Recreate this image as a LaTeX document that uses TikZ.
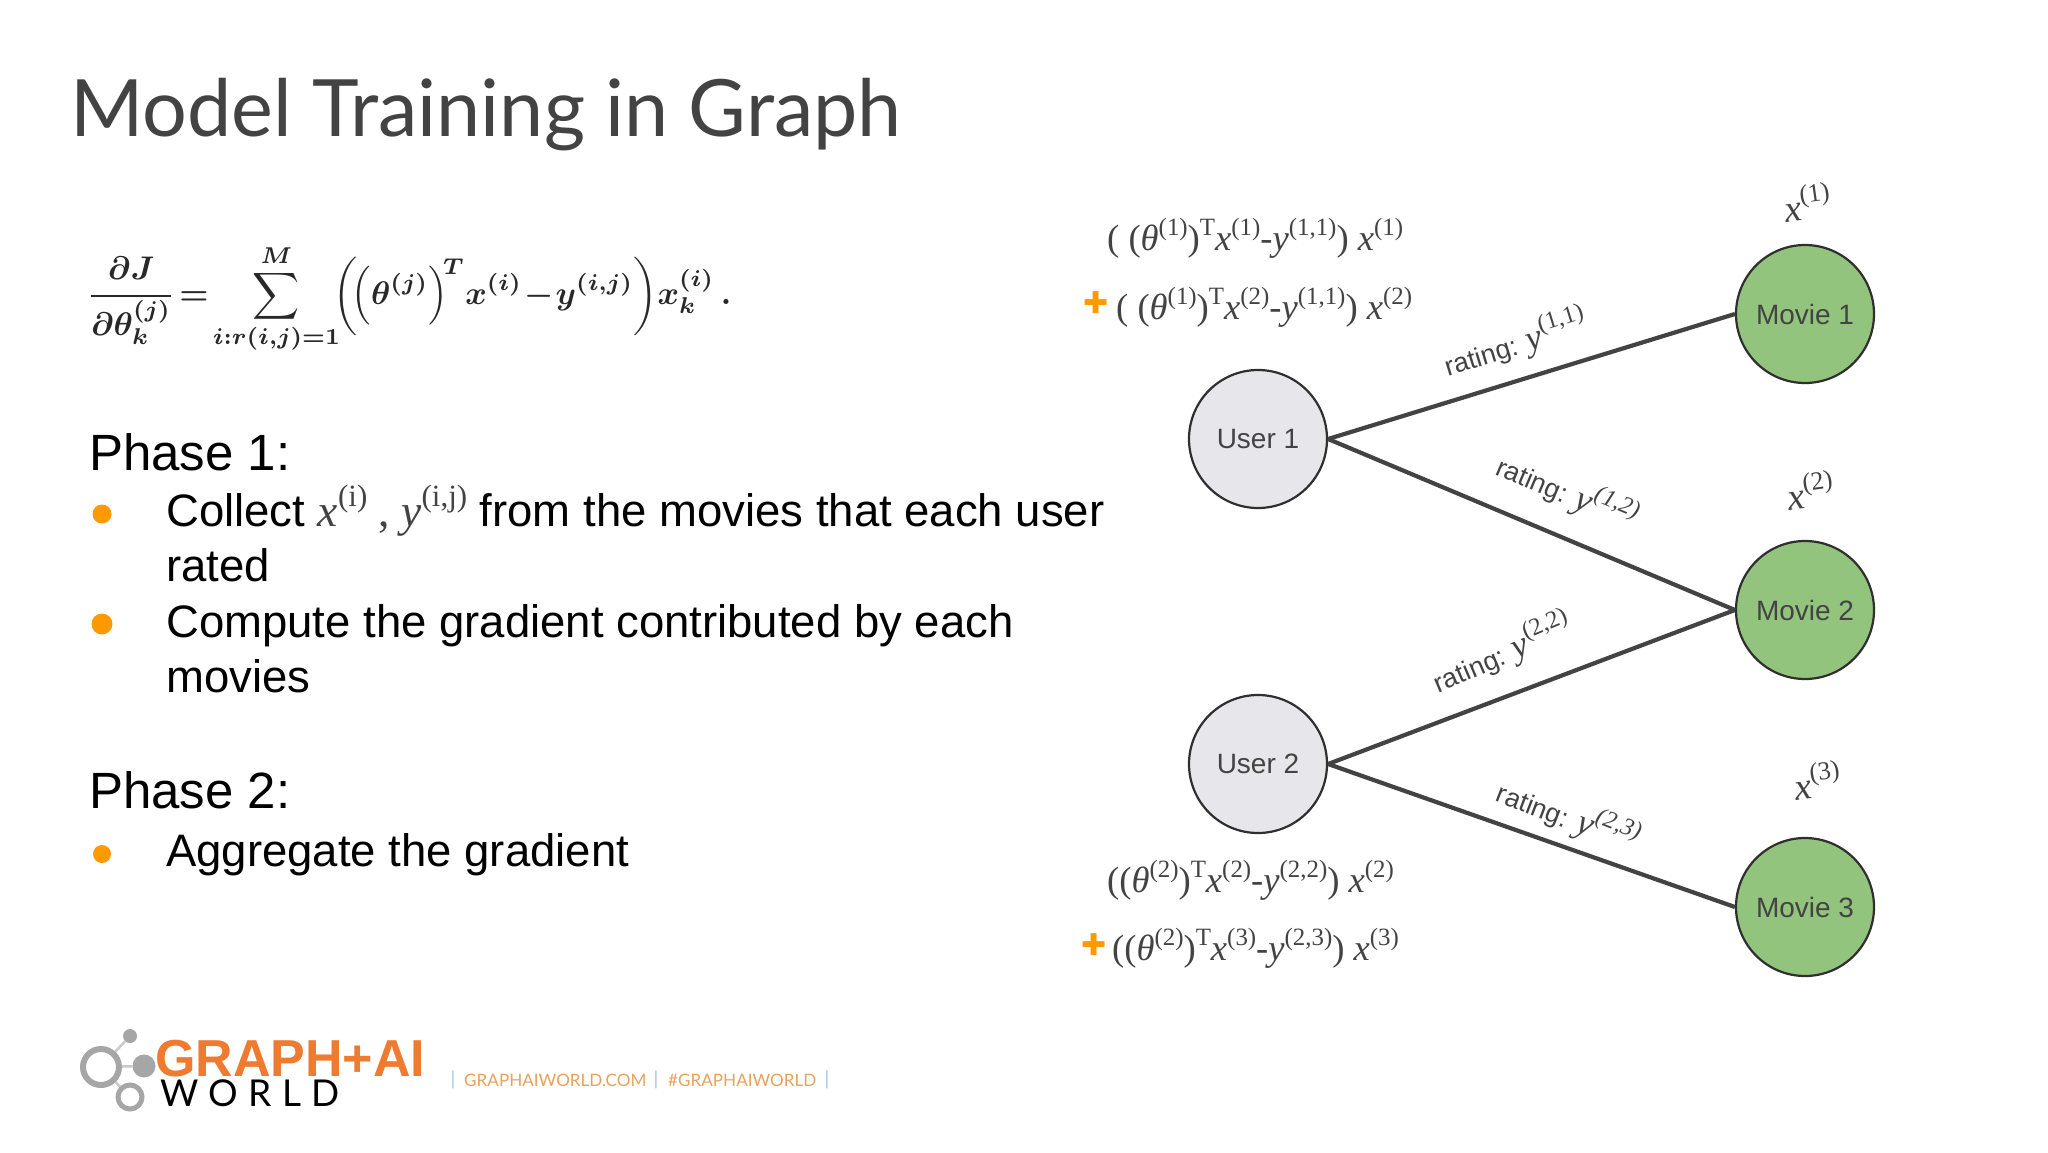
\documentclass[tikz,border=0pt]{standalone}
\usepackage[no-math]{fontspec}
\setmainfont{Liberation Sans}
\newfontfamily\serf{Liberation Serif}
\newfontfamily\lato{Lato}
\newfontfamily\djv{DejaVu Sans}
\definecolor{ink}{HTML}{434343}
\definecolor{orng}{HTML}{FF9900}
\definecolor{lgreen}{HTML}{93C47D}
\definecolor{lgray}{HTML}{E7E7EB}
\definecolor{logoor}{HTML}{EE7B30}
\definecolor{logogr}{HTML}{A6A6A6}
\definecolor{foot}{HTML}{E9A15B}
\definecolor{footb}{HTML}{9FC5E8}
\newcommand\fsz[1]{\fontsize{#1}{#1}\selectfont}
\newcommand\SU[1]{\raisebox{.42em}{\scalebox{.68}{#1}}}
\newcommand\vx{{\itshape x}}
\newcommand\vy{{\itshape y}}
\newcommand\vt{{\itshape θ}}
\newcommand\lsp{\hspace{10.4pt}}
\tikzset{
 user/.style={circle,draw=ink!70!black,line width=2.2pt,fill=lgray,minimum size=138pt,inner sep=0pt,text=ink,font=\fsz{28}},
 movie/.style={circle,draw=ink!70!black,line width=2.2pt,fill=lgreen,minimum size=138pt,inner sep=0pt,text=ink,font=\fsz{28}},
 edge/.style={draw=ink,line width=4.2pt},
 rate/.style={text=ink,font=\fsz{27},inner sep=0pt},
 eqn/.style={text=ink,font=\serf\fsz{36.6},inner sep=0pt,anchor=west},
 feat/.style={text=ink,font=\serf\fsz{38},inner sep=0pt},
 pluss/.style={text=orng,font=\djv\fsz{30},inner sep=0pt},
 body/.style={text=black,font=\fsz{45.5},inner sep=0pt,anchor=base west},
 phase/.style={text=black,font=\fsz{51},inner sep=0pt,anchor=base west},
 dotb/.style={circle,fill=orng,minimum size=19pt,inner sep=0pt},
 ringl/.style={circle,draw=logogr,inner sep=0pt},
 foottxt/.style={text=foot,font=\lato\fsz{17.1},inner sep=0pt,anchor=west},
 footbar/.style={text=footb,font=\lato\fsz{19},inner sep=0pt},
}
\begin{document}
\begin{tikzpicture}[x=1pt,y=-1pt]
\path[use as bounding box,fill=white] (0,0) rectangle (2048,1152);
% title
\node[anchor=base west,inner sep=0pt,text=ink,font=\lato\fsz{79.1}] (title) at (70,136) {Model Training in Graph};
% formula
\node[anchor=west,inner sep=0pt,text=ink!60!black] (formula) at (87,299) {\scalebox{3.27}{\boldmath$\displaystyle \frac{\partial J}{\partial\theta_k^{(j)}}\!=\!\sum_{i:r(i,j)=1}^{M}\!\!\left(\!\left(\theta^{(j)}\right)^{\!T}\!x^{(i)}\!-\!y^{(i,j)}\right)\!x_k^{(i)}\,.$}};
% left text
\node[phase] (ph1) at (89,470) {Phase 1:};
\node[dotb] (b1) at (102,514) {};
\node[body] (l1) at (166,526) {Collect {\serf\fsz{45.5}\textcolor{ink}{\vx\SU{(i)} , \vy\SU{(i,j)}}} from the movies that each user};
\node[body] (l2) at (166,581) {rated};
\node[dotb,minimum size=21pt] (b2) at (102,624) {};
\node[body] (l3) at (166,637) {Compute the gradient contributed by each};
\node[body] (l4) at (166,692) {movies};
\node[phase] (ph2) at (89,808) {Phase 2:};
\node[dotb,minimum size=18pt] (b3) at (102,854) {};
\node[body] (l5) at (166,866) {Aggregate the gradient};
% graph
\node[user] (u1) at (1258,439) {User 1};
\node[user] (u2) at (1258,764) {User 2};
\node[movie] (m1) at (1805,314) {Movie 1};
\node[movie] (m2) at (1805,610) {Movie 2};
\node[movie] (m3) at (1805,907) {Movie 3};
\draw[edge] (u1.east) -- (m1.west);
\draw[edge] (u1.east) -- (m2.west);
\draw[edge] (u2.east) -- (m2.west);
\draw[edge] (u2.east) -- (m3.west);
\node[rate,rotate=17] (r11) at (1515,343) {rating: {\serf\fsz{36}\vy\SU{(1,1)}}};
\node[rate,rotate=-23] (r12) at (1567,492) {rating: {\serf\fsz{36}\vy\SU{\itshape (1,2)}}};
\node[rate,rotate=23] (r22) at (1502,653) {rating: {\serf\fsz{36}\vy\SU{(2,2)}}};
\node[rate,rotate=-21] (r23) at (1568,816) {rating: {\serf\fsz{36}\vy\SU{\itshape (2,3)}}};
\node[feat,rotate=8] (x1) at (1807,202) {\vx\SU{(1)}};
\node[feat,rotate=8] (x2) at (1810,490) {\vx\SU{(2)}};
\node[feat,rotate=8] (x3) at (1817,780) {\vx\SU{(3)}};
\node[eqn] (e1) at (1107,238) {( (\vt\SU{(1)})\SU{T}\vx\SU{(1)}-\vy\SU{(1,1)}) \vx\SU{(1)}};
\node[pluss] (p1) at (1096,303) {✚};
\node[eqn] (e2) at (1116,307) {( (\vt\SU{(1)})\SU{T}\vx\SU{(2)}-\vy\SU{(1,1)}) \vx\SU{(2)}};
\node[eqn] (e3) at (1107,880) {((\vt\SU{(2)})\SU{T}\vx\SU{(2)}-\vy\SU{(2,2)}) \vx\SU{(2)}};
\node[pluss] (p2) at (1094,945) {✚};
\node[eqn] (e4) at (1112,948) {((\vt\SU{(2)})\SU{T}\vx\SU{(3)}-\vy\SU{(2,3)}) \vx\SU{(3)}};
% logo
\node[ringl,line width=6pt,minimum size=36pt] (lr1) at (101,1067) {};
\node[circle,fill=logogr,minimum size=23pt,inner sep=0pt] (lf) at (144,1066) {};
\node[circle,fill=logogr,minimum size=14pt,inner sep=0pt] (lt) at (130,1036) {};
\node[ringl,line width=5pt,minimum size=24pt] (lr2) at (130,1097) {};
\draw[draw=logogr!60,line width=2.5pt] (lr1) -- (lf);
\draw[draw=logogr!60,line width=2.5pt] (lr1) -- (lt);
\draw[draw=logogr!60,line width=2.5pt] (lr1) -- (lr2);
\node[anchor=base west,inner sep=0pt,text=logoor,font=\bfseries\fsz{52}] (lg) at (155,1076) {GRAPH+AI};
\node[anchor=base west,inner sep=0pt,text=black,font=\lato\fsz{37}] (lw) at (160,1106) {W\lsp O\lsp R\lsp L\lsp D};
% footer
\node[footbar] (fb1) at (453,1080) {|};
\node[foottxt] (ft1) at (464,1080) {GRAPHAIWORLD.COM};
\node[footbar] (fb2) at (656,1080) {|};
\node[foottxt] (ft2) at (668,1080) {\#GRAPHAIWORLD};
\node[footbar] (fb3) at (827,1080) {|};
\end{tikzpicture}
\end{document}
